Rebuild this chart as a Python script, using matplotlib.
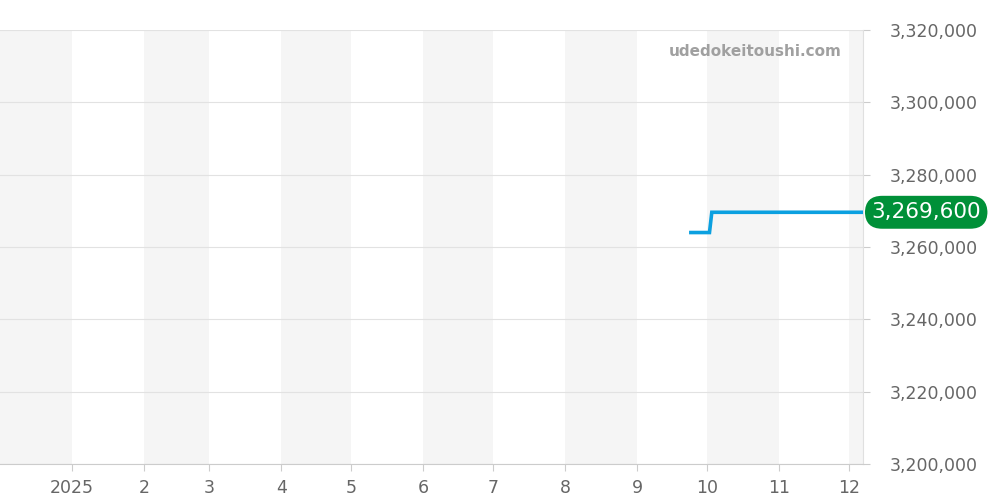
import matplotlib
matplotlib.use("Agg")
import matplotlib.pyplot as plt
import matplotlib.dates as mdates
import pandas as pd
from matplotlib.ticker import FuncFormatter, FixedLocator

plt.rcParams['font.family'] = ['DejaVu Sans']

dates = ['2025-09-24', '2025-10-02', '2025-10-03', '2025-12-07']
prices = [3264000, 3264000, 3269600, 3269600]
month_ticks = ['2025-01-01', '2025-02-01', '2025-03-01', '2025-04-01', '2025-05-01', '2025-06-01',
               '2025-07-01', '2025-08-01', '2025-09-01', '2025-10-01', '2025-11-01', '2025-12-01']
month_labels = ['2025', '2', '3', '4', '5', '6', '7', '8', '9', '10', '11', '12']
shaded_months = ['2024-12-01', '2025-02-01', '2025-04-01', '2025-06-01', '2025-08-01', '2025-10-01', '2025-12-01']
y_ticks = [3200000, 3220000, 3240000, 3260000, 3280000, 3300000, 3320000]
last_label = '3,269,600'

d = pd.to_datetime(dates)
xmin = pd.Timestamp('2024-12-01')
xmax = pd.Timestamp('2025-12-07')

fig = plt.figure(figsize=(10, 5), dpi=100)
ax = fig.add_axes([0.0, 0.072, 0.863, 0.868])

for m in shaded_months:
    s = pd.Timestamp(m)
    e = s + pd.offsets.MonthBegin(1)
    ax.axvspan(s, e, color='#f5f5f5', zorder=0, lw=0)

ax.plot(d, prices, color='#0ba0e0', lw=2.6, zorder=3, solid_joinstyle='miter')

ax.set_xlim(xmin, xmax)
ax.set_ylim(y_ticks[0], y_ticks[-1])

ax.xaxis.set_major_locator(FixedLocator(mdates.date2num(pd.to_datetime(month_ticks))))
ax.set_xticklabels(month_labels)
ax.yaxis.tick_right()
ax.set_yticks(y_ticks)
ax.yaxis.set_major_formatter(FuncFormatter(lambda v, p: f'{int(v):,}'))

ax.grid(axis='y', color='#e2e2e2', lw=0.8, zorder=1)
for s in ['top', 'left']:
    ax.spines[s].set_visible(False)
ax.spines['right'].set_color('#e0e0e0')
ax.spines['bottom'].set_color('#cccccc')
ax.tick_params(axis='x', colors='#cccccc', labelcolor='#666666', labelsize=12.5, length=5, pad=6)
ax.tick_params(axis='y', colors='#cccccc', labelcolor='#666666', labelsize=12.5, length=5, pad=14)

ax.text(0.975, 0.95, 'udedokeitoushi.com', transform=ax.transAxes, ha='right', va='center',
        fontsize=11, fontweight='bold', color='#a0a0a0', zorder=5)

ax.annotate(last_label, xy=(1.0, prices[-1]), xycoords=('axes fraction', 'data'),
            xytext=(45.5, 0), textcoords='offset points', ha='center', va='center',
            fontsize=15.5, color='white', zorder=6, annotation_clip=False,
            bbox=dict(boxstyle='round,pad=0.3,rounding_size=0.8', fc='#009038', ec='none'))

fig.savefig('out.png', dpi=100)
